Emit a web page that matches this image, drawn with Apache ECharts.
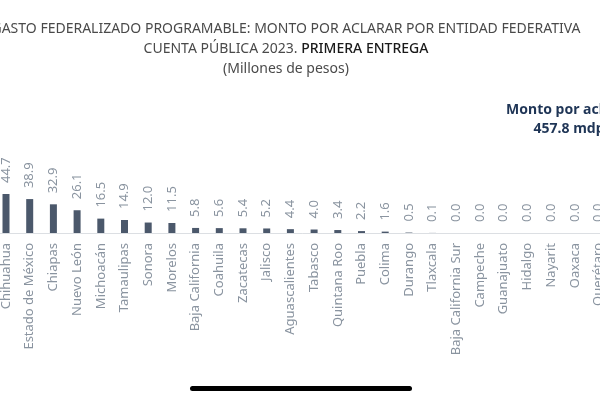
<!DOCTYPE html>
<html>
<head>
<meta charset="utf-8">
<script src="https://cdn.jsdelivr.net/npm/echarts@6/dist/echarts.min.js"></script>
<style>
  html, body { margin: 0; padding: 0; background: #fff; overflow: hidden; width: 600px; height: 400px; position: relative; }
  /* el gráfico original está recortado en los bordes */
  #chart { position: absolute; left: -20px; top: 0; width: 660px; height: 400px; }
</style>
</head>
<body>
<div id="chart"></div>
<script>
// Entidades (ordenadas de mayor a menor monto)
const entidades = [
  "Chihuahua", "Estado de México", "Chiapas", "Nuevo León", "Michoacán",
  "Tamaulipas", "Sonora", "Morelos", "Baja California", "Coahuila",
  "Zacatecas", "Jalisco", "Aguascalientes", "Tabasco", "Quintana Roo",
  "Puebla", "Colima", "Durango", "Tlaxcala", "Baja California Sur",
  "Campeche", "Guanajuato", "Hidalgo", "Nayarit", "Oaxaca", "Querétaro",
];

// Monto por aclarar (millones de pesos)
const montos = [
  44.7, 38.9, 32.9, 26.1, 16.5,
  14.9, 12.0, 11.5, 5.8, 5.6,
  5.4, 5.2, 4.4, 4.0, 3.4,
  2.2, 1.6, 0.5, 0.1, 0.0,
  0.0, 0.0, 0.0, 0.0, 0.0, 0.0,
];

const tituloLinea1 = "GASTO FEDERALIZADO PROGRAMABLE: MONTO POR ACLARAR POR ENTIDAD FEDERATIVA";
const tituloLinea2 = "CUENTA PÚBLICA 2023. ";
const tituloEntrega = "PRIMERA ENTREGA";
const subtitulo = "(Millones de pesos)";
const totalTexto = "Monto por aclarar\n457.8 mdp";

const font = "'Noto Sans', 'Open Sans', sans-serif";

const chart = echarts.init(document.getElementById("chart"));

const option = {
  animation: false,
  textStyle: { fontFamily: font },
  title: {
    left: 301,
    top: 14,
    textAlign: "center",
    itemGap: 0,
    text: tituloLinea1 + "\n" + tituloLinea2 + "{b|" + tituloEntrega + "}",
    textStyle: {
      fontSize: 14,
      fontWeight: "normal",
      color: "#4a4a4a",
      lineHeight: 20,
      rich: {
        b: { fontSize: 14, color: "#1a1a1a", fontWeight: 500, lineHeight: 20 },
      },
    },
    subtext: subtitulo,
    subtextStyle: { fontSize: 14, color: "#4a4a4a", lineHeight: 20 },
  },
  graphic: [
    {
      type: "text",
      x: 589,
      y: 101,
      style: {
        text: totalTexto,
        fill: "#1f3556",
        font: "bold 14px " + font,
        textAlign: "center",
        textVerticalAlign: "top",
        lineHeight: 19,
      },
    },
    {
      // barra inferior de la captura
      type: "rect",
      shape: { x: 210, y: 386, width: 222, height: 5, r: 2.5 },
      style: { fill: "#000" },
    },
  ],
  grid: {
    left: 14.15,
    width: 616.2,
    top: 145.8,
    bottom: 167,
  },
  xAxis: {
    type: "category",
    data: entidades,
    axisLine: { lineStyle: { color: "#dcdfe3", width: 1 } },
    axisTick: { show: false },
    axisLabel: {
      interval: 0,
      rotate: 90,
      margin: 10,
      fontSize: 13,
      color: "#8a94a0",
    },
  },
  yAxis: {
    type: "value",
    min: 0,
    max: 100,
    show: false,
    splitLine: { show: false },
  },
  series: [
    {
      type: "bar",
      data: montos,
      barWidth: 7,
      itemStyle: { color: "#4b586b" },
      label: {
        show: true,
        position: "top",
        rotate: 90,
        align: "left",
        verticalAlign: "middle",
        distance: 11,
        fontSize: 13,
        color: "#8a94a0",
        formatter: (p) => p.value.toFixed(1),
      },
    },
  ],
};

chart.setOption(option);
</script>
</body>
</html>
